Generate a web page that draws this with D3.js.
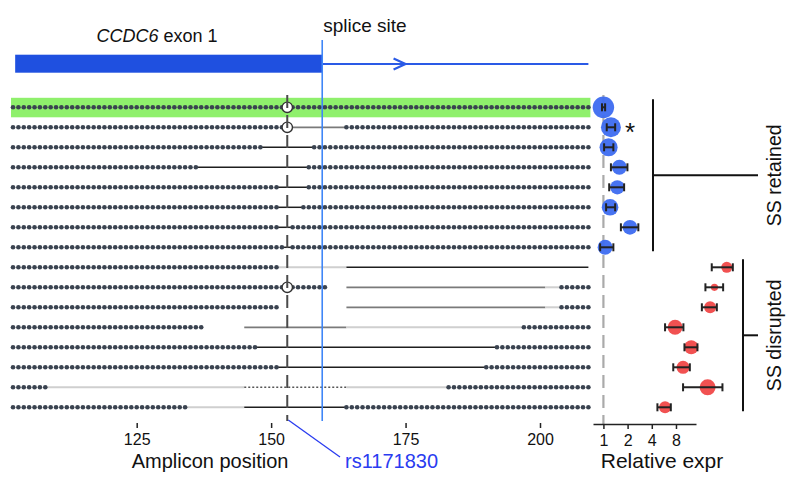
<!DOCTYPE html>
<html><head><meta charset="utf-8">
<script src="https://cdn.jsdelivr.net/npm/d3@7"></script>
<style>body{margin:0;background:#fff}svg{display:block}</style>
</head><body><svg id="c" width="800" height="485"></svg>
<script>
// ---- data ----
const ampliconTicks = [125, 150, 175, 200];
const exprTicks = [1, 2, 4, 8];
const ampliconStart = 102, ampliconEnd = 209;
const snpPos = 153;           // rs1171830
const spliceSite = 159.5;
const exonStart = 102.4;
const arrowPos = 175;
// per-row alignment segments [from, to, kind]
const rowSegments = [
  [[102,209,"dot"]],
  [[102,153,"dot"],[153,164,"grey"],[164,209,"dot"]],
  [[102,148,"dot"],[148,158,"del"],[158,209,"dot"]],
  [[102,136,"dot"],[136,157,"del"],[157,209,"dot"]],
  [[102,151,"dot"],[151,157,"del"],[157,209,"dot"]],
  [[102,151,"dot"],[151,156,"del"],[156,209,"dot"]],
  [[102,151,"dot"],[151,154,"del"],[154,209,"dot"]],
  [[102,152,"dot"],[152,154,"del"],[154,209,"dot"]],
  [[102,151,"dot"],[151,164,"light"],[164,209,"del"]],
  [[102,160,"dot"],[164,201,"grey"],[201,204,"light"],[204,209,"dot"]],
  [[102,151,"dot"],[164,201,"grey"],[201,204,"light"],[204,209,"dot"]],
  [[102,137,"dot"],[145,164,"grey"],[164,197,"light"],[197,209,"dot"]],
  [[102,147,"dot"],[147,192,"del"],[192,209,"dot"]],
  [[102,151,"dot"],[151,190,"del"],[190,209,"dot"]],
  [[102,108,"dot"],[108,145,"light"],[145,164,"dotted"],[164,183,"light"],[183,209,"dot"]],
  [[102,134,"dot"],[134,145,"light"],[145,164,"del"],[164,209,"dot"]]
];
const snpAllele = [true, true, false, false, false, false, false, false, false, true, false, false, false, false, false, false];
const highlightRow = 0;
const exprValue = [1.00, 1.24, 1.16, 1.58, 1.49, 1.21, 2.14, 1.05, 34.3, 24.1, 21.3, 7.8, 12.4, 9.8, 19.8, 5.85];
const exprLow   = [0.96, 1.10, 1.02, 1.24, 1.18, 1.08, 1.65, 0.91, 22.3, 18.6, 16.8, 5.85, 10.2, 7.4, 9.8, 4.7];
const exprHigh  = [1.05, 1.40, 1.33, 1.99, 1.81, 1.40, 2.72, 1.33, 40.8, 30.9, 25.8, 9.9, 14.8, 11.9, 30.3, 6.9];
const pointShare = [0.45, 0.39, 0.32, 0.22, 0.20, 0.27, 0.21, 0.22, 0.12, 0.05, 0.14, 0.22, 0.19, 0.165, 0.25, 0.14];
const groupOf = ["retained","retained","retained","retained","retained","retained","retained","retained",
                 "disrupted","disrupted","disrupted","disrupted","disrupted","disrupted","disrupted","disrupted"];
const starRows = [1];
const groups = [{name:"SS retained", key:"retained", first:0, last:7}, {name:"SS disrupted", key:"disrupted", first:8, last:15}];

// ---- scales ----
const svg = d3.select("#c");
const x = d3.scaleLinear().domain([125, 200]).range([136.7, 540]);
const y = d3.scaleLinear().domain([0, 15]).range([107.3, 407.3]);
const xe = d3.scaleLog().base(2).domain([0.742, 14.2]).range([593, 696]);
const rs = d3.scaleSqrt().domain([0, 1]).range([0, 16]);
const color = d3.scaleOrdinal().domain(["retained","disrupted"]).range(["#3d6cf0","#f04848"]);
const FONT = "'Liberation Sans', Arial, sans-serif";

// ---- gene model ----
svg.append("rect").attr("x", x(exonStart)).attr("y", 54.7)
  .attr("width", x(spliceSite) - x(exonStart)).attr("height", 18).attr("fill", "#1f50e0");
svg.append("line").attr("x1", x(spliceSite)).attr("x2", x(ampliconEnd)).attr("y1", 64).attr("y2", 64)
  .attr("stroke", "#2a5ae6").attr("stroke-width", 2);
svg.append("path").attr("d", `M${x(arrowPos)-12},58.5 L${x(arrowPos)},64 L${x(arrowPos)-12},69.5`)
  .attr("fill", "none").attr("stroke", "#2a5ae6").attr("stroke-width", 2.2);
const t1 = svg.append("text").attr("x", 157).attr("y", 42).attr("text-anchor", "middle")
  .attr("font-family", FONT).attr("font-size", 18).attr("fill", "#111");
t1.append("tspan").attr("font-style", "italic").text("CCDC6");
t1.append("tspan").text(" exon 1");
svg.append("text").attr("x", x(spliceSite) + 1).attr("y", 32).attr("font-family", FONT)
  .attr("font-size", 19).attr("fill", "#111").text("splice site");

// ---- highlight ----
svg.append("rect").attr("x", x(ampliconStart) - 2).attr("width", x(ampliconEnd) - x(ampliconStart) + 4)
  .attr("y", y(highlightRow) - 9.5).attr("height", 19.5).attr("fill", "#8ff06c");

// ---- rows ----
const lineStyle = {
  del: {stroke: "#1e1e1e", w: 1.5, dash: null},
  grey: {stroke: "#7a7a7a", w: 1.8, dash: null},
  light: {stroke: "#cfcfcf", w: 2, dash: null},
  dotted: {stroke: "#555", w: 1.4, dash: "2,2"}
};
rowSegments.forEach((segs, i) => {
  const g = svg.append("g");
  segs.filter(s => s[2] !== "dot").forEach(s => {
    const st = lineStyle[s[2]];
    g.append("line").attr("x1", x(s[0])).attr("x2", x(s[1])).attr("y1", y(i)).attr("y2", y(i))
      .attr("stroke", st.stroke).attr("stroke-width", st.w).attr("stroke-dasharray", st.dash);
  });
  segs.filter(s => s[2] === "dot").forEach(s => {
    g.selectAll(null).data(d3.range(s[0], s[1] + 1)).join("circle")
      .attr("cx", d => x(d)).attr("cy", y(i)).attr("r", 2.3).attr("fill", "#3a4350");
  });
  if (snpAllele[i]) {
    g.append("circle").attr("cx", x(snpPos)).attr("cy", y(i)).attr("r", 5.2)
      .attr("fill", "#fff").attr("stroke", "#333").attr("stroke-width", 1.4);
  }
});

// SNP dashed line
svg.append("line").attr("x1", x(snpPos)).attr("x2", x(snpPos)).attr("y1", 95).attr("y2", 421)
  .attr("stroke", "#4a4a4a").attr("stroke-width", 2).attr("stroke-dasharray", "13,7");
// splice site line
svg.append("line").attr("x1", x(spliceSite)).attr("x2", x(spliceSite)).attr("y1", 40).attr("y2", 421)
  .attr("stroke", "#3f86f7").attr("stroke-width", 1.6);

// ---- amplicon axis ----
const ax = svg.append("g").attr("transform", "translate(0,423)")
  .call(d3.axisBottom(x).tickValues(ampliconTicks).tickSize(5).tickPadding(6));
ax.select(".domain").remove();
ax.selectAll("line").attr("stroke", "#222").attr("stroke-width", 1.5);
ax.selectAll("text").attr("font-family", FONT).attr("font-size", 16).attr("fill", "#111");
svg.append("text").attr("x", 210).attr("y", 468).attr("text-anchor", "middle").attr("font-family", FONT)
  .attr("font-size", 20).attr("fill", "#111").text("Amplicon position");
// rs label
svg.append("line").attr("x1", x(snpPos) + 1).attr("y1", 420).attr("x2", 340).attr("y2", 457)
  .attr("stroke", "#2a3cf0").attr("stroke-width", 1.3);
svg.append("text").attr("x", 345).attr("y", 468).attr("font-family", FONT).attr("font-size", 20)
  .attr("fill", "#2a3cf0").text("rs1171830");

// ---- expression panel ----
svg.append("line").attr("x1", xe(1)).attr("x2", xe(1)).attr("y1", 95).attr("y2", 424)
  .attr("stroke", "#aaa").attr("stroke-width", 2.2).attr("stroke-dasharray", "13,7");
const eg = svg.append("g");
exprValue.forEach((v, i) => {
  eg.append("circle").attr("cx", xe(v)).attr("cy", y(i)).attr("r", rs(pointShare[i]))
    .attr("fill", color(groupOf[i])).attr("fill-opacity", 0.95);
  const lo = xe(exprLow[i]), hi = xe(exprHigh[i]);
  eg.append("line").attr("x1", lo).attr("x2", hi).attr("y1", y(i)).attr("y2", y(i))
    .attr("stroke", "#222").attr("stroke-width", 2);
  [lo, hi].forEach(px => eg.append("line").attr("x1", px).attr("x2", px)
    .attr("y1", y(i) - 4).attr("y2", y(i) + 4).attr("stroke", "#222").attr("stroke-width", 2));
});
starRows.forEach(i => svg.append("text").attr("x", 630).attr("y", y(i) + 14).attr("text-anchor", "middle")
  .attr("font-family", FONT).attr("font-size", 26).attr("fill", "#111").text("*"));

const ex = svg.append("g").attr("transform", "translate(0,424)")
  .call(d3.axisBottom(xe).tickValues(exprTicks).tickFormat(d3.format("d")).tickSize(5).tickSizeOuter(0).tickPadding(6));
ex.select(".domain").attr("stroke", "#222").attr("stroke-width", 1.5);
ex.selectAll("line").attr("stroke", "#222").attr("stroke-width", 1.5);
ex.selectAll("text").attr("font-family", FONT).attr("font-size", 16).attr("fill", "#111");
svg.append("text").attr("x", 662).attr("y", 468).attr("text-anchor", "middle").attr("font-family", FONT)
  .attr("font-size", 21).attr("fill", "#111").text("Relative expr");

// ---- group brackets ----
const bracketX = {retained: 653, disrupted: 743};
groups.forEach(gr => {
  const bx = bracketX[gr.key];
  const y0 = y(gr.first) - 8, y1 = y(gr.last) + 4, ym = (y0 + y1) / 2;
  svg.append("line").attr("x1", bx).attr("x2", bx).attr("y1", y0).attr("y2", y1)
    .attr("stroke", "#111").attr("stroke-width", 2);
  svg.append("line").attr("x1", bx).attr("x2", 758).attr("y1", ym).attr("y2", ym)
    .attr("stroke", "#111").attr("stroke-width", 2);
  svg.append("text").attr("transform", `translate(781,${ym}) rotate(-90)`).attr("text-anchor", "middle")
    .attr("font-family", FONT).attr("font-size", 19.5).attr("fill", "#111").text(gr.name);
});
</script></body></html>
